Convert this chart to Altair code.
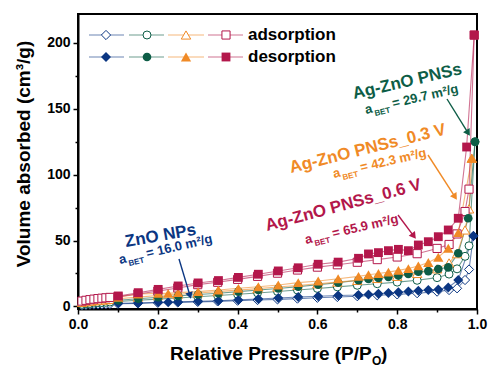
import math
import altair as alt
import pandas as pd

FONT = "Liberation Sans"

# ---- plot geometry (pixels) ----
W, H = 399, 295
PAD_L, PAD_T = 78, 14
X_DOM = [0.0, 1.0]
Y_DOM = [-2.0, 222.0]

# ---- samples ----
SAMPLES = ["ZnO NPs", "Ag-ZnO PNSs", "Ag-ZnO PNSs_0.3 V", "Ag-ZnO PNSs_0.6 V"]
COLORS = ["#0b3682", "#0d5d46", "#f08a26", "#b3174b"]
SHAPES = ["diamond", "circle", "triangle-up", "square"]
SIZES = [100, 75, 105, 78]

# ---- adsorption branch (open symbols) ----
ADS_P = [0.01, 0.02, 0.03, 0.04, 0.05, 0.06, 0.07, 0.08, 0.10, 0.15, 0.20, 0.25,
         0.30, 0.35, 0.40, 0.45, 0.50, 0.55, 0.60, 0.65, 0.70, 0.75, 0.80, 0.85,
         0.90, 0.93, 0.95, 0.97, 0.98]
ZNO_ADS_V = [0.9, 1.1, 1.3, 1.4, 1.5, 1.6, 1.7, 1.8, 2.0, 2.3, 2.7, 3.0, 3.4, 3.8,
             4.3, 4.8, 5.3, 5.9, 6.5, 7.1, 7.7, 8.4, 9.1, 10.0, 11.2, 12.4, 13.7,
             20.0, 28.0]
PNS_ADS_V = [1.5, 1.9, 2.2, 2.5, 2.7, 2.9, 3.1, 3.3, 3.7, 4.6, 5.5, 6.4, 7.3, 8.2,
             9.2, 10.2, 11.3, 12.4, 13.6, 14.8, 16.0, 17.2, 18.4, 19.8, 21.8, 24.5,
             28.5, 38.0, 46.0]
PNS03_ADS_V = [3.0, 3.5, 3.9, 4.2, 4.5, 4.8, 5.0, 5.3, 5.8, 7.0, 8.2, 9.2, 10.2,
               11.2, 12.3, 13.5, 14.7, 15.9, 17.1, 18.4, 19.7, 21.2, 22.8, 25.0,
               28.5, 33.0, 40.0, 58.0, 74.0]
PNS06_ADS_V = [4.0, 4.6, 5.1, 5.5, 5.9, 6.2, 6.5, 6.8, 7.4, 9.4, 11.6, 14.0, 16.5,
               18.3, 20.5, 22.8, 25.2, 27.6, 29.8, 31.6, 33.5, 35.5, 37.5, 40.0,
               44.0, 47.0, 55.0, 72.0, 89.0]

# ---- desorption branch (filled symbols) ----
ZNO_DES_P = [0.101, 0.151, 0.201, 0.226, 0.251, 0.301, 0.352, 0.402, 0.452, 0.502,
             0.552, 0.602, 0.652, 0.703, 0.728, 0.753, 0.778, 0.803, 0.828, 0.853,
             0.878, 0.903, 0.928, 0.953, 0.991]
ZNO_DES_V = [2.4, 2.6, 3.1, 3.2, 3.4, 3.9, 4.3, 4.9, 5.6, 6.3, 7.1, 7.7, 8.2, 8.6,
             9.1, 9.6, 10.1, 10.7, 11.2, 11.9, 12.4, 12.9, 14.4, 20.0, 53.5]
PNS_DES_P = [0.101, 0.151, 0.201, 0.251, 0.301, 0.352, 0.402, 0.452, 0.502, 0.552,
             0.602, 0.652, 0.703, 0.728, 0.753, 0.778, 0.803, 0.828, 0.853, 0.878,
             0.903, 0.928, 0.953, 0.978, 0.995]
PNS_DES_V = [4.6, 5.8, 6.9, 8.0, 9.0, 10.0, 11.2, 12.4, 13.6, 15.0, 16.4, 18.0,
             19.8, 20.8, 21.6, 22.4, 23.4, 24.6, 26.3, 26.8, 28.4, 29.6, 40.3, 66.9,
             125.0]
PNS03_DES_P = [0.101, 0.151, 0.201, 0.226, 0.251, 0.301, 0.352, 0.402, 0.452, 0.502,
               0.552, 0.602, 0.652, 0.703, 0.728, 0.753, 0.778, 0.803, 0.828, 0.853,
               0.878, 0.903, 0.928, 0.953, 0.987]
PNS03_DES_V = [6.9, 9.4, 9.9, 9.9, 10.4, 11.2, 12.4, 13.7, 14.9, 16.2, 18.0, 19.3,
               21.0, 22.8, 24.0, 25.0, 26.0, 27.3, 28.7, 30.7, 33.3, 37.3, 44.1,
               56.0, 112.5]
PNS06_DES_P = [0.101, 0.151, 0.201, 0.251, 0.301, 0.352, 0.402, 0.452, 0.502, 0.552,
               0.602, 0.652, 0.703, 0.728, 0.753, 0.778, 0.803, 0.828, 0.853, 0.878,
               0.903, 0.928, 0.953, 0.974, 0.993]
PNS06_DES_V = [7.9, 10.4, 12.9, 15.5, 17.8, 19.6, 22.0, 24.4, 26.9, 29.3, 32.0, 33.6,
               36.5, 39.8, 40.8, 42.3, 43.3, 42.3, 46.6, 49.1, 52.9, 58.0, 66.9,
               121.0, 206.0]

ADS_V = [ZNO_ADS_V, PNS_ADS_V, PNS03_ADS_V, PNS06_ADS_V]
DES_P = [ZNO_DES_P, PNS_DES_P, PNS03_DES_P, PNS06_DES_P]
DES_V = [ZNO_DES_V, PNS_DES_V, PNS03_DES_V, PNS06_DES_V]

# specific surface areas
A_BET = ["16.0", "29.7", "42.3", "65.9"]


def to_P(px):
    """page x pixel -> relative pressure"""
    return X_DOM[0] + (px - PAD_L) * (X_DOM[1] - X_DOM[0]) / W


def to_V(py):
    """page y pixel -> volume"""
    return Y_DOM[1] - (py - PAD_T) * (Y_DOM[1] - Y_DOM[0]) / H


# ---- long table of points ----
rows = []
for i, s in enumerate(SAMPLES):
    top_p, top_v = DES_P[i][-1], DES_V[i][-1]
    for p, v in list(zip(ADS_P, ADS_V[i])) + [(top_p, top_v)]:
        rows.append(dict(P=p, V=v, sample=s, branch="ads", color=COLORS[i],
                         shape=SHAPES[i], msize=SIZES[i] * 0.85))
    for p, v in zip(DES_P[i], DES_V[i]):
        rows.append(dict(P=p, V=v, sample=s, branch="des", color=COLORS[i],
                         shape=SHAPES[i], msize=SIZES[i]))
df = pd.DataFrame(rows)
df["grp"] = df["sample"] + "|" + df["branch"]

x_scale = alt.Scale(domain=X_DOM, nice=False, zero=False)
y_scale = alt.Scale(domain=Y_DOM, nice=False, zero=False)

axis_style = dict(labelFont=FONT, labelFontSize=14, labelFontWeight="bold",
                  labelColor="black", tickColor="black", tickWidth=1.5,
                  tickSize=5, domainColor="black", domainWidth=2, grid=False,
                  title=None, labelFlush=False)
x_axis = alt.Axis(values=[0, 0.2, 0.4, 0.6, 0.8, 1.0], format=".1f",
                  labelPadding=3, orient="bottom", **axis_style)
y_axis = alt.Axis(values=[0, 50, 100, 150, 200], format="d", labelPadding=3,
                  orient="left", **axis_style)

X = alt.X("P:Q", scale=x_scale, axis=x_axis)
Y = alt.Y("V:Q", scale=y_scale, axis=y_axis)
Xn = alt.X("P:Q", scale=x_scale, axis=None)
Yn = alt.Y("V:Q", scale=y_scale, axis=None)

# minor ticks
minor = alt.Chart(pd.DataFrame({"P": [0.5], "V": [100]})).mark_point(opacity=0).encode(
    x=alt.X("P:Q", scale=x_scale, axis=alt.Axis(
        values=[0.1, 0.3, 0.5, 0.7, 0.9], labels=False, domain=False, grid=False,
        tickSize=3, tickWidth=1.5, tickColor="black", title=None, orient="bottom")),
    y=alt.Y("V:Q", scale=y_scale, axis=alt.Axis(
        values=[25, 75, 125, 175], labels=False, domain=False, grid=False,
        tickSize=3, tickWidth=1.5, tickColor="black", title=None, orient="left")),
)

lines = alt.Chart(df).mark_line(strokeWidth=1.1, opacity=0.6).encode(
    x=X, y=Y,
    color=alt.Color("color:N", scale=None),
    detail="grp:N",
    order=alt.Order("P:Q"),
)

open_pts = alt.Chart(df[df.branch == "ads"]).mark_point(
    fill="white", fillOpacity=1, strokeWidth=1, opacity=1
).encode(
    x=Xn, y=Yn,
    stroke=alt.Stroke("color:N", scale=None),
    shape=alt.Shape("shape:N", scale=None),
    size=alt.Size("msize:Q", scale=None),
)

filled_pts = alt.Chart(df[df.branch == "des"]).mark_point(
    filled=True, opacity=1, strokeWidth=0
).encode(
    x=Xn, y=Yn,
    color=alt.Color("color:N", scale=None),
    shape=alt.Shape("shape:N", scale=None),
    size=alt.Size("msize:Q", scale=None),
)

# ---- legend (symbols + short lines) ----
LEG_ROWS = [("ads", "adsorption", 35), ("des", "desorption", 57)]
LEG_SYM_X = [106, 147, 186, 226]
LEG_SEG = [(89, 124), (129, 164), (168, 204), (208, 243)]
leg_seg_rows, leg_sym_rows, leg_txt_rows = [], [], []
for br, label, py in LEG_ROWS:
    for i in range(4):
        leg_seg_rows.append(dict(P=to_P(LEG_SEG[i][0]), P2=to_P(LEG_SEG[i][1]),
                                 V=to_V(py), color=COLORS[i]))
        leg_sym_rows.append(dict(P=to_P(LEG_SYM_X[i]), V=to_V(py), color=COLORS[i],
                                 shape=SHAPES[i],
                                 msize=SIZES[i] * (0.85 if br == "ads" else 1.0),
                                 branch=br))
    leg_txt_rows.append(dict(P=to_P(248), V=to_V(py), t=label))
leg_seg = pd.DataFrame(leg_seg_rows)
leg_sym = pd.DataFrame(leg_sym_rows)
leg_txt = pd.DataFrame(leg_txt_rows)

legend_lines = alt.Chart(leg_seg).mark_rule(strokeWidth=1.1, opacity=0.6).encode(
    x=Xn, x2="P2:Q", y=Yn, color=alt.Color("color:N", scale=None))
legend_open = alt.Chart(leg_sym[leg_sym.branch == "ads"]).mark_point(
    fill="white", fillOpacity=1, strokeWidth=1, opacity=1).encode(
    x=Xn, y=Yn, stroke=alt.Stroke("color:N", scale=None),
    shape=alt.Shape("shape:N", scale=None), size=alt.Size("msize:Q", scale=None))
legend_filled = alt.Chart(leg_sym[leg_sym.branch == "des"]).mark_point(
    filled=True, opacity=1, strokeWidth=0).encode(
    x=Xn, y=Yn, color=alt.Color("color:N", scale=None),
    shape=alt.Shape("shape:N", scale=None), size=alt.Size("msize:Q", scale=None))
legend_text = alt.Chart(leg_txt).mark_text(
    align="left", baseline="middle", font=FONT, fontSize=17, fontWeight="bold",
    color="black").encode(x=Xn, y=Yn, text="t:N")

# ---- sample annotations ----
ANN_NAME_XY = [(126, 247), (354, 99), (291, 173), (267, 231)]
ANN_NAME_ANG = [350, 347, 346, 345]
ANN_ABET_XY = [(120, 264), (366, 114), (334, 178), (306, 244)]
ANN_ABET_ANG = [347, 347, 347, 347]
ARROWS = [((179, 259), (191, 299)), ((447, 99), (470, 136)),
          ((428, 155), (457, 200)), ((398, 215), (416, 239))]

name_rows, abet_rows = [], []
for i, s in enumerate(SAMPLES):
    name_rows.append(dict(P=to_P(ANN_NAME_XY[i][0]), V=to_V(ANN_NAME_XY[i][1]),
                          t=s, color=COLORS[i], ang=ANN_NAME_ANG[i]))
    abet_rows.append(dict(P=to_P(ANN_ABET_XY[i][0]), V=to_V(ANN_ABET_XY[i][1]),
                          t=f"= {A_BET[i]} m²/g", color=COLORS[i],
                          ang=ANN_ABET_ANG[i]))
name_df = pd.DataFrame(name_rows)
abet_df = pd.DataFrame(abet_rows)

txt_enc = dict(x=Xn, y=Yn, color=alt.Color("color:N", scale=None),
               angle=alt.Angle("ang:Q", scale=None))
names = alt.Chart(name_df).mark_text(
    align="left", baseline="alphabetic", font=FONT, fontSize=17,
    fontWeight="bold").encode(text="t:N", **txt_enc)
abet_a = alt.Chart(abet_df).mark_text(
    align="left", baseline="alphabetic", font=FONT, fontSize=13,
    fontWeight="bold").encode(text=alt.value("a"), **txt_enc)
abet_sub = alt.Chart(abet_df).mark_text(
    align="left", baseline="alphabetic", font=FONT, fontSize=8, fontWeight="bold",
    dx=8.5, dy=4).encode(text=alt.value("BET"), **txt_enc)
abet_rest = alt.Chart(abet_df).mark_text(
    align="left", baseline="alphabetic", font=FONT, fontSize=13,
    fontWeight="bold", dx=28).encode(text="t:N", **txt_enc)

# arrows: shaft + triangular head
shaft_rows, head_rows = [], []
for i, ((x1, y1), (x2, y2)) in enumerate(ARROWS):
    dx, dy = x2 - x1, y2 - y1
    L = math.hypot(dx, dy)
    ux, uy = dx / L, dy / L
    back = 3.6
    shaft_rows.append(dict(P=to_P(x1), V=to_V(y1), P2=to_P(x2 - ux * 4),
                           V2=to_V(y2 - uy * 4), color=COLORS[i]))
    head_rows.append(dict(P=to_P(x2 - ux * back), V=to_V(y2 - uy * back),
                          color=COLORS[i],
                          ang=math.degrees(math.atan2(dx, -dy)) % 360))
shafts = alt.Chart(pd.DataFrame(shaft_rows)).mark_rule(strokeWidth=1.4).encode(
    x=Xn, y=Yn, x2="P2:Q", y2="V2:Q", color=alt.Color("color:N", scale=None))
heads = alt.Chart(pd.DataFrame(head_rows)).mark_point(
    shape="triangle-up", filled=True, size=60, opacity=1, strokeWidth=0).encode(
    x=Xn, y=Yn, color=alt.Color("color:N", scale=None),
    angle=alt.Angle("ang:Q", scale=None))

# ---- axis titles ----
one = pd.DataFrame({"k": [0]})
y_title = alt.Chart(one).mark_text(
    angle=270, align="center", baseline="middle", font=FONT, fontSize=19,
    fontWeight="bold", color="black").encode(
    x=alt.value(24 - PAD_L), y=alt.value(154 - PAD_T),
    text=alt.value("Volume absorbed (cm³/g)"))
x_title_main = alt.Chart(one).mark_text(
    align="left", baseline="alphabetic", font=FONT, fontSize=19,
    fontWeight="bold", color="black").encode(
    x=alt.value(170 - PAD_L), y=alt.value(360 - PAD_T),
    text=alt.value("Relative Pressure (P/P"))
x_title_sub = alt.Chart(one).mark_text(
    align="left", baseline="alphabetic", font=FONT, fontSize=12,
    fontWeight="bold", color="black").encode(
    x=alt.value(372 - PAD_L), y=alt.value(365 - PAD_T), text=alt.value("O"))
x_title_end = alt.Chart(one).mark_text(
    align="left", baseline="alphabetic", font=FONT, fontSize=19,
    fontWeight="bold", color="black").encode(
    x=alt.value(381 - PAD_L), y=alt.value(360 - PAD_T), text=alt.value(")"))

chart = alt.layer(
    minor, lines, open_pts, filled_pts,
    legend_lines, legend_open, legend_filled, legend_text,
    shafts, heads, names, abet_a, abet_sub, abet_rest,
    y_title, x_title_main, x_title_sub, x_title_end,
).resolve_axis(
    x="independent", y="independent"
).properties(
    width=W, height=H,
    autosize=alt.AutoSizeParams(type="none"),
    padding={"left": PAD_L, "top": PAD_T, "right": 489 - PAD_L - W,
             "bottom": 367 - PAD_T - H},
    background="white",
).configure_view(
    stroke="black", strokeWidth=2
)

chart.save("out.html", embed_options={"renderer": "svg", "actions": False})
